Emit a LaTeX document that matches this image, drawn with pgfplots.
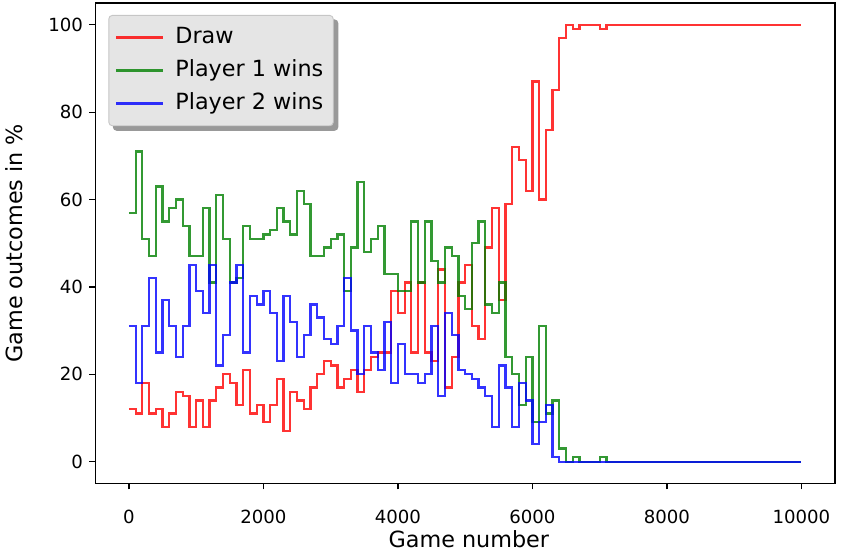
\documentclass[border=0pt]{standalone}
\usepackage{fontspec}
\setmainfont{DejaVu Sans}
\usepackage{pgfplots}
\usepackage{pgfplotstable}
\pgfplotsset{compat=1.18}
\usetikzlibrary{backgrounds}
\definecolor{cR}{RGB}{255,0,0}
\definecolor{cG}{RGB}{0,128,0}
\definecolor{cB}{RGB}{0,0,255}

\pgfplotstableread{
x d p1 p2
0 12 57 31
100 11 71 18
200 18 51 31
300 11 47 42
400 12 63 25
500 8 55 37
600 11 58 31
700 16 60 24
800 15 54 31
900 8 47 45
1000 14 47 39
1100 8 58 34
1200 14 41 45
1300 17 61 22
1400 20 51 29
1500 18 41 41
1600 13 42 45
1700 21 54 25
1800 11 51 38
1900 13 51 36
2000 9 52 39
2100 13 53 34
2200 19 58 23
2300 7 55 38
2400 16 52 32
2500 14 62 24
2600 12 59 29
2700 17 47 36
2800 20 47 33
2900 23 49 28
3000 22 51 27
3100 17 52 31
3200 19 39 42
3300 21 49 30
3400 16 64 20
3500 21 48 31
3600 24 51 25
3700 25 54 21
3800 25 43 32
3900 39 43 18
4000 34 39 27
4100 41 39 20
4200 25 55 20
4300 41 41 18
4400 25 55 20
4500 23 46 31
4600 44 41 15
4700 17 49 34
4800 24 47 29
4900 41 38 21
5000 45 35 20
5100 31 50 19
5200 28 55 17
5300 49 36 15
5400 58 34 8
5500 37 41 22
5600 59 24 17
5700 72 20 8
5800 69 13 18
5900 62 24 14
6000 87 9 4
6100 60 31 9
6200 76 11 13
6300 85 14 1
6400 97 3 0
6500 100 0 0
6600 99 1 0
6700 100 0 0
6800 100 0 0
6900 100 0 0
7000 99 1 0
7100 100 0 0
7200 100 0 0
7300 100 0 0
7400 100 0 0
7500 100 0 0
7600 100 0 0
7700 100 0 0
7800 100 0 0
7900 100 0 0
8000 100 0 0
8100 100 0 0
8200 100 0 0
8300 100 0 0
8400 100 0 0
8500 100 0 0
8600 100 0 0
8700 100 0 0
8800 100 0 0
8900 100 0 0
9000 100 0 0
9100 100 0 0
9200 100 0 0
9300 100 0 0
9400 100 0 0
9500 100 0 0
9600 100 0 0
9700 100 0 0
9800 100 0 0
9900 100 0 0
10000 100 0 0
}\datatable

\begin{document}
\begin{tikzpicture}
\begin{axis}[
  scale only axis,
  width=408.1pt, height=265.1pt,
  xmin=-500, xmax=10500, ymin=-5, ymax=105,
  xtick={0,2000,...,10000},
  ytick={0,20,...,100},
  scaled x ticks=false,
  scaled y ticks=false,
  tick pos=left,
  tick align=outside,
  major tick length=3.3pt,
  every tick/.style={black, line width=0.7pt},
  axis line style={line width=0.7pt},
  ticklabel style={font=\fontsize{10}{12}\selectfont},
  xticklabel style={yshift=-8pt},
  /pgf/number format/assume math mode=true,
  /pgf/number format/1000 sep={},
  xlabel={Game number},
  ylabel={Game outcomes in \%},
  xlabel style={font=\fontsize{12.3}{14}\selectfont, at={(axis description cs:0.505,-0.116)}, anchor=center},
  ylabel style={font=\fontsize{12.3}{14}\selectfont, at={(axis description cs:-0.109,0.5)}, anchor=center},
  clip=false,
  legend cell align=left,
  legend image code/.code={\draw[#1] (0pt,0pt) -- (26pt,0pt);},
  legend style={
    name=leg,
    at={(axis description cs:0,1)}, anchor=north west,
    xshift=7.2pt, yshift=-6.6pt,
    fill=gray!20, draw=gray!45, rounded corners=2pt, line width=0.5pt,
    font=\fontsize{12.3}{14}\selectfont,
    inner xsep=3.5pt, inner ysep=6.5pt,
    nodes={inner ysep=0pt, text height=9pt, text depth=2.5pt},
    row sep=6.7pt,
  },
  /tikz/every odd column/.append style={column sep=4pt},
]
\addplot[const plot, cR, draw opacity=0.8, line width=1.25pt] table[x=x, y=d] {\datatable};
\addlegendentry{Draw}
\addplot[const plot, cG, draw opacity=0.8, line width=1.25pt] table[x=x, y=p1] {\datatable};
\addlegendentry{Player 1 wins}
\addplot[const plot, cB, draw opacity=0.8, line width=1.25pt] table[x=x, y=p2] {\datatable};
\addlegendentry{Player 2 wins}
\path (axis description cs:-0.1253,-0.1432) rectangle (axis description cs:1.0081,1.0062);
\end{axis}
\begin{scope}[on background layer]
\fill[black!40, rounded corners=2pt] ([xshift=2.5pt,yshift=-2.5pt]leg.south west) rectangle ([xshift=2.5pt,yshift=-2.5pt]leg.north east);
\end{scope}
\end{tikzpicture}
\end{document}
